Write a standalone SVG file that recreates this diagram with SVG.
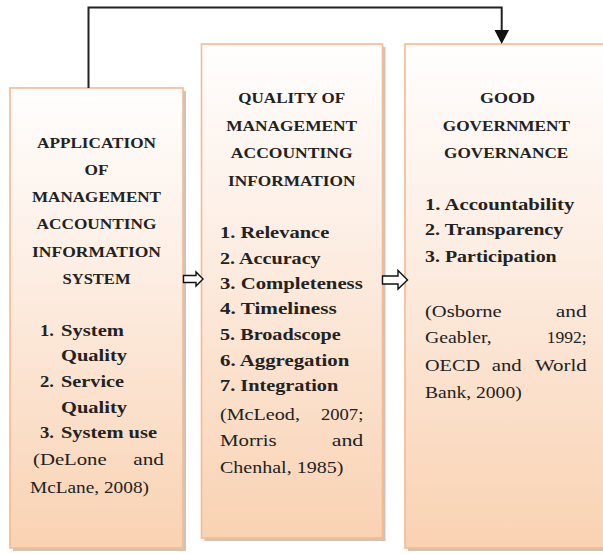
<svg xmlns="http://www.w3.org/2000/svg" width="603" height="554" viewBox="0 0 603 554">
<defs>
<linearGradient id="peach" x1="0" y1="0" x2="0" y2="1">
<stop offset="0" stop-color="#fffefe"/>
<stop offset="0.35" stop-color="#fdf0e7"/>
<stop offset="1" stop-color="#f9d2b2"/>
</linearGradient>
<style>
.box{fill:url(#peach);stroke:#f7b98d;stroke-width:1.6}
.shadow{fill:#b9b2ad;opacity:0.75}
.t{font-family:"Liberation Serif","Times New Roman",serif;fill:#222}
.h{font-size:15.5px;font-weight:bold;text-anchor:middle}
.b{font-size:16.5px;font-weight:bold}
.r{font-size:16.5px}
.e{text-anchor:end}
.m{text-anchor:middle}
.conn{fill:none;stroke:#222;stroke-width:2}
.hollow{fill:#fff;stroke:#111;stroke-width:1.4;stroke-linejoin:miter}
</style>
</defs>
<rect width="603" height="554" fill="#fff"/>

<g id="node-application">
<rect class="shadow" x="13" y="91" width="173" height="460"/>
<rect class="box" x="10" y="88" width="173" height="460"/>
<text class="t h" x="96.5" y="148" textLength="119" lengthAdjust="spacingAndGlyphs">APPLICATION</text>
<text class="t h" x="96.5" y="175" textLength="24" lengthAdjust="spacingAndGlyphs">OF</text>
<text class="t h" x="96.5" y="202" textLength="129" lengthAdjust="spacingAndGlyphs">MANAGEMENT</text>
<text class="t h" x="96.5" y="229" textLength="120" lengthAdjust="spacingAndGlyphs">ACCOUNTING</text>
<text class="t h" x="96.5" y="257" textLength="129" lengthAdjust="spacingAndGlyphs">INFORMATION</text>
<text class="t h" x="96.5" y="284" textLength="68" lengthAdjust="spacingAndGlyphs">SYSTEM</text>
<text class="t b" x="40" y="336" textLength="14" lengthAdjust="spacingAndGlyphs">1.</text>
<text class="t b" x="61" y="336" textLength="63" lengthAdjust="spacingAndGlyphs">System</text>
<text class="t b" x="61" y="361" textLength="66" lengthAdjust="spacingAndGlyphs">Quality</text>
<text class="t b" x="40" y="387" textLength="14" lengthAdjust="spacingAndGlyphs">2.</text>
<text class="t b" x="61" y="387" textLength="63" lengthAdjust="spacingAndGlyphs">Service</text>
<text class="t b" x="61" y="413" textLength="66" lengthAdjust="spacingAndGlyphs">Quality</text>
<text class="t b" x="40" y="438" textLength="14" lengthAdjust="spacingAndGlyphs">3.</text>
<text class="t b" x="61" y="438" textLength="96" lengthAdjust="spacingAndGlyphs">System use</text>
<text class="t r" x="33" y="465" textLength="73.7" lengthAdjust="spacingAndGlyphs">(DeLone</text>
<text class="t r e" x="164" y="465" textLength="30.7" lengthAdjust="spacingAndGlyphs">and</text>
<text class="t r" x="30" y="492.5" textLength="119" lengthAdjust="spacingAndGlyphs">McLane, 2008)</text>
</g>

<g id="node-quality">
<rect class="shadow" x="204.5" y="47" width="181" height="494"/>
<rect class="box" x="201.5" y="44" width="181" height="494"/>
<text class="t h" x="291.7" y="103.3" textLength="106.7" lengthAdjust="spacingAndGlyphs">QUALITY OF</text>
<text class="t h" x="291.7" y="130.7" textLength="131" lengthAdjust="spacingAndGlyphs">MANAGEMENT</text>
<text class="t h" x="291.7" y="158.3" textLength="121.7" lengthAdjust="spacingAndGlyphs">ACCOUNTING</text>
<text class="t h" x="291.7" y="185.7" textLength="127.4" lengthAdjust="spacingAndGlyphs">INFORMATION</text>
<text class="t b" x="220" y="238.3" textLength="109.3" lengthAdjust="spacingAndGlyphs">1. Relevance</text>
<text class="t b" x="220" y="264" textLength="100.7" lengthAdjust="spacingAndGlyphs">2. Accuracy</text>
<text class="t b" x="220" y="289.3" textLength="142.7" lengthAdjust="spacingAndGlyphs">3. Completeness</text>
<text class="t b" x="220" y="314.3" textLength="116.7" lengthAdjust="spacingAndGlyphs">4. Timeliness</text>
<text class="t b" x="220" y="340" textLength="120.7" lengthAdjust="spacingAndGlyphs">5. Broadscope</text>
<text class="t b" x="220" y="366" textLength="129.3" lengthAdjust="spacingAndGlyphs">6. Aggregation</text>
<text class="t b" x="220" y="391" textLength="118.3" lengthAdjust="spacingAndGlyphs">7. Integration</text>
<text class="t r" x="220" y="420" textLength="80" lengthAdjust="spacingAndGlyphs">(McLeod,</text>
<text class="t r e" x="363.3" y="420" textLength="42.3" lengthAdjust="spacingAndGlyphs">2007;</text>
<text class="t r" x="220" y="445.7" textLength="56.7" lengthAdjust="spacingAndGlyphs">Morris</text>
<text class="t r e" x="363.3" y="445.7" textLength="31.6" lengthAdjust="spacingAndGlyphs">and</text>
<text class="t r" x="220" y="473.3" textLength="123.3" lengthAdjust="spacingAndGlyphs">Chenhal, 1985)</text>
</g>

<g id="node-governance">
<rect class="shadow" x="408" y="47" width="205" height="504"/>
<rect class="box" x="405" y="44" width="205" height="504"/>
<text class="t h" x="507.5" y="103.3" textLength="55" lengthAdjust="spacingAndGlyphs">GOOD</text>
<text class="t h" x="506.4" y="130.7" textLength="127.3" lengthAdjust="spacingAndGlyphs">GOVERNMENT</text>
<text class="t h" x="506.2" y="158.3" textLength="124.3" lengthAdjust="spacingAndGlyphs">GOVERNANCE</text>
<text class="t b" x="425" y="210" textLength="149.3" lengthAdjust="spacingAndGlyphs">1. Accountability</text>
<text class="t b" x="425" y="235" textLength="138.3" lengthAdjust="spacingAndGlyphs">2. Transparency</text>
<text class="t b" x="425" y="261.7" textLength="131.7" lengthAdjust="spacingAndGlyphs">3. Participation</text>
<text class="t r" x="425" y="316.7" textLength="76.7" lengthAdjust="spacingAndGlyphs">(Osborne</text>
<text class="t r e" x="586.7" y="316.7" textLength="31" lengthAdjust="spacingAndGlyphs">and</text>
<text class="t r" x="425" y="343.3" textLength="66.7" lengthAdjust="spacingAndGlyphs">Geabler,</text>
<text class="t r e" x="586.7" y="343.3" textLength="40" lengthAdjust="spacingAndGlyphs">1992;</text>
<text class="t r" x="425" y="370.7" textLength="55" lengthAdjust="spacingAndGlyphs">OECD</text>
<text class="t r m" x="506.7" y="370.7" textLength="30" lengthAdjust="spacingAndGlyphs">and</text>
<text class="t r e" x="586.7" y="370.7" textLength="51.7" lengthAdjust="spacingAndGlyphs">World</text>
<text class="t r" x="425" y="398.3" textLength="96.7" lengthAdjust="spacingAndGlyphs">Bank, 2000)</text>
</g>

<g id="connectors">
<path class="conn" d="M88.5,88 V7.5 H501.7 V31"/>
<polygon points="494.5,30 509,30 501.7,44" fill="#111"/>
<polygon class="hollow" points="183.5,275.5 196,275.5 196,272 203,279 196,286 196,282.5 183.5,282.5"/>
<polygon class="hollow" points="382.5,276 398,276 398,270.5 407.5,280 398,289 398,284 382.5,284"/>
</g>
</svg>
